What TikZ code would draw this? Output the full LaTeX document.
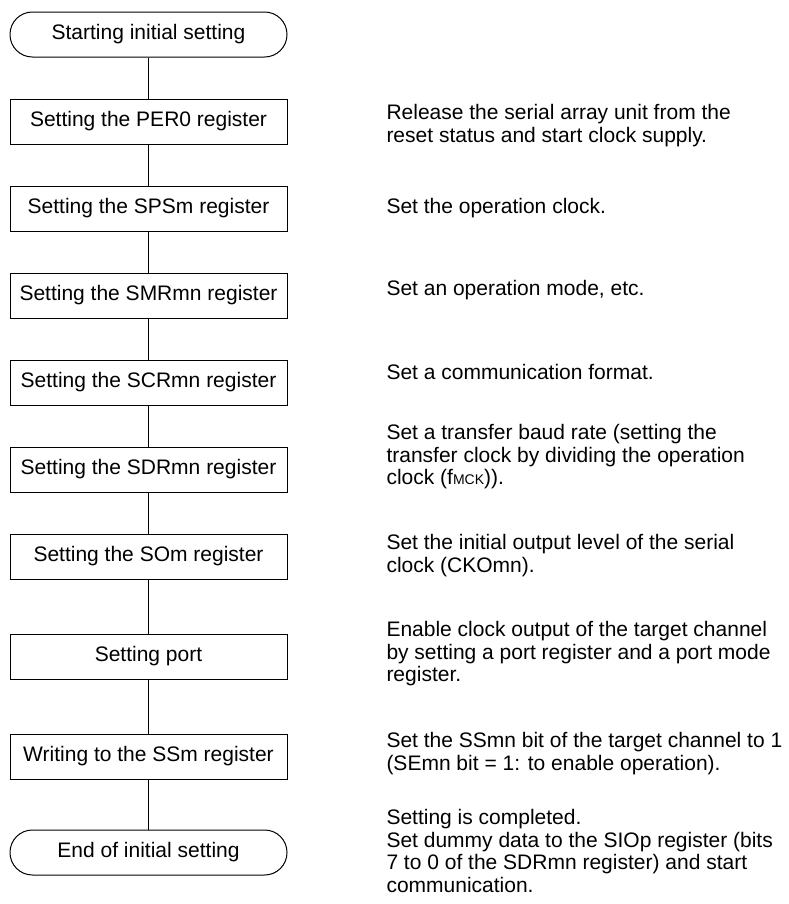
\documentclass[tikz,border=0pt]{standalone}
\usepackage{fontspec}
\setmainfont{Liberation Sans}
\usetikzlibrary{positioning}
\newcommand{\descstrut}{\rule{0pt}{12pt}}
\newcommand{\subtxt}[1]{{\fontsize{10.5}{12}\selectfont #1}}

\begin{document}
\begin{tikzpicture}[x=0.75pt, y=-0.75pt, node distance=30.75pt, line width=0.75pt, every node/.style={font=\fontsize{15.75}{16.9}\selectfont}]
    \tikzstyle{terminal} = [rectangle, draw, rounded corners=16.8pt, minimum width=207.75pt, minimum height=33.75pt, text centered]
    \tikzstyle{block} = [rectangle, draw, minimum width=207.75pt, minimum height=33.75pt, text centered]
    \tikzstyle{desc} = [anchor=north west, align=left, inner sep=0pt]
    \tikzstyle{line} = [draw]

    \useasboundingbox (0,0) rectangle (789,904);

    \node [terminal] (start) at (148.5,34.5) {Starting initial setting};
    \node [block, below=of start] (per) {Setting the PER0 register};
    \node [block, below=of per] (sps) {Setting the SPSm register};
    \node [block, below=of sps] (smr) {Setting the SMRmn register};
    \node [block, below=of smr] (scr) {Setting the SCRmn register};
    \node [block, below=of scr] (sdr) {Setting the SDRmn register};
    \node [block, below=of sdr] (som) {Setting the SOm register};
    \node [block, below=40.5pt of som] (port) {Setting port};
    \node [block, below=40.5pt of port] (ssm) {Writing to the SSm register};
    \node [terminal, below=37.5pt of ssm] (stop) {End of initial setting};

    \node [desc] (perdesc) at (386,103) {\descstrut Release the serial array unit from the\\reset status and start clock supply.};
    \node [desc] (spsdesc) at (386,197) {\descstrut Set the operation clock.};
    \node [desc] (smrdesc) at (386,279) {\descstrut Set an operation mode, etc.};
    \node [desc] (scrdesc) at (386,363) {\descstrut Set a communication format.};
    \node [desc] (sdrdesc) at (386,423) {\descstrut Set a transfer baud rate (setting the\\transfer clock by dividing the operation\\clock (f\subtxt{MCK})).};
    \node [desc] (somdesc) at (386,533) {\descstrut Set the initial output level of the serial\\clock (CKOmn).};
    \node [desc] (portdesc) at (386,620) {\descstrut Enable clock output of the target channel\\by setting a port register and a port mode\\register.};
    \node [desc] (ssmdesc) at (386,731) {\descstrut Set the SSmn bit of the target channel to 1\\(SEmn bit = 1: to enable operation).};
    \node [desc] (stopdesc) at (386,808) {\descstrut Setting is completed.\\Set dummy data to the SIOp register (bits\\7 to 0 of the SDRmn register) and start\\communication.};

    \path [line] (start) -- (per);
    \path [line] (per) -- (sps);
    \path [line] (sps) -- (smr);
    \path [line] (smr) -- (scr);
    \path [line] (scr) -- (sdr);
    \path [line] (sdr) -- (som);
    \path [line] (som) -- (port);
    \path [line] (port) -- (ssm);
    \path [line] (ssm) -- (stop);
\end{tikzpicture}
\end{document}
